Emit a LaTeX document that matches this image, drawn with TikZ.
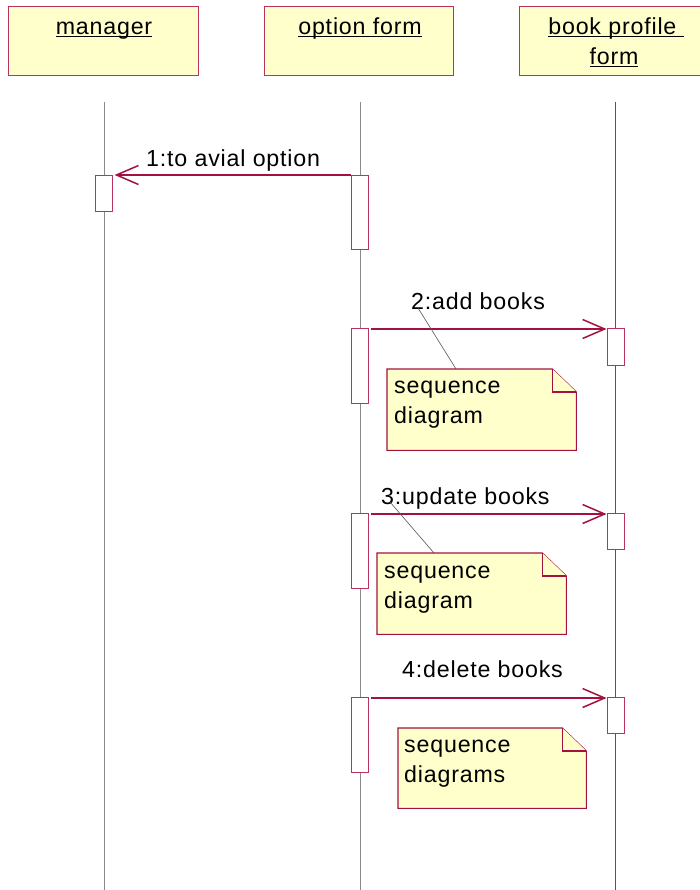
\documentclass[tikz,border=0pt]{standalone}
\usepackage{fontspec}
\setmainfont{Liberation Sans}[LetterSpace=3.5]
\usetikzlibrary{arrows.meta,calc}
\definecolor{umlred}{HTML}{A3123F}
\definecolor{umlbox}{HTML}{B8345E}
\definecolor{umlfill}{HTML}{FFFFCC}
\definecolor{lifegray}{HTML}{8A8A8A}
\definecolor{lifedark}{HTML}{555555}
\newcommand\myul[1]{\setbox0\hbox{#1}\rlap{\rule[-2.6pt]{\wd0}{1.2pt}}\box0}
\newcommand\drawnote[1]{%
  \filldraw[noteline] (#1.north west) -- ($(#1.north east)+(-24,0)$) -- ($(#1.north east)+(0,23)$) -- (#1.south east) -- (#1.south west) -- cycle;
  \draw[noteline] ($(#1.north east)+(-24,0)$) -- ($(#1.north east)+(-24,23)$) -- ($(#1.north east)+(0,23)$);}
\begin{document}
\begin{tikzpicture}[x=1pt,y=-1pt,
  every node/.style={font=\fontsize{23.2}{30}\selectfont, inner sep=0pt},
  hdr/.style={draw=umlbox, fill=umlfill, line width=1.1pt, minimum width=190pt, minimum height=69pt, anchor=north west},
  act/.style={draw=umlbox, fill=white, line width=1.1pt, minimum width=17pt, anchor=north west},
  life/.style={draw=lifegray, line width=1pt},
  msg/.style={draw=umlred, line width=1.1pt, -{Straight Barb[length=22pt,width=19pt,line width=1.5pt]}},
  lbl/.style={anchor=base west, text=black},
  notearea/.style={anchor=north west},
  noteline/.style={draw=umlred, fill=umlfill, line width=1.1pt},
  noteconn/.style={draw=lifedark, line width=0.6pt}]
\useasboundingbox (0,0) rectangle (699,890);
\fill[white] (0,0) rectangle (699,890);

% header boxes
\node[hdr] (mgr) at (8,6) {};
\node[hdr, minimum width=189pt] (opt) at (264,6) {};
\node[hdr] (bpf) at (519,6) {};
\node[anchor=base] (mgrT) at (104,34.5) {\myul{manager}};
\node[anchor=base] (optT) at (360,34.5) {\myul{option form}};
\node[anchor=base] (bpfT) at (616,34.5) {\myul{book profile\ }};
\node[anchor=base] (bpfT2) at (614,64.5) {\myul{form}};

% lifelines
\coordinate (L1t) at (104,102); \coordinate (L1b) at (104,890);
\coordinate (L2t) at (360,102); \coordinate (L2b) at (360,890);
\coordinate (L3t) at (615,102); \coordinate (L3b) at (615,890);
\draw[life] (L1t) -- (L1b);
\draw[life] (L2t) -- (L2b);
\draw[life, draw=lifedark] (L3t) -- (L3b);

% activation boxes
\node[act, minimum height=36pt] (m1) at (95,175) {};
\node[act, minimum height=74pt] (o1) at (351,175) {};
\node[act, minimum height=75pt] (o2) at (351,328) {};
\node[act, minimum height=75pt] (o3) at (351,513) {};
\node[act, minimum height=75pt] (o4) at (351,697) {};
\node[act, minimum height=37pt] (b2) at (606.5,328) {};
\node[act, minimum height=36pt] (b3) at (606.5,513) {};
\node[act, minimum height=36pt] (b4) at (606.5,697) {};

% messages
\draw[msg] (o1.north west) -- ($(m1.north east)+(1.5,0)$);
\draw[msg] ($(o2.north east)+(2,1)$) -- ($(b2.north west)+(0,1)$);
\draw[msg] ($(o3.north east)+(2,1)$) -- ($(b3.north west)+(0,1)$);
\draw[msg] ($(o4.north east)+(2,1)$) -- ($(b4.north west)+(0,1)$);

\node[lbl] (l1) at (146,167) {1:to avial option};
\node[lbl] (l2) at (411,309) {2:add books};
\node[lbl] (l3) at (381,504) {3:update books};
\node[lbl] (l4) at (402,677) {4:delete books};

% notes
\node[notearea, minimum width=189pt, minimum height=81pt] (n1) at (387,369) {};
\node[notearea, minimum width=189pt, minimum height=81pt] (n2) at (377,553) {};
\node[notearea, minimum width=188pt, minimum height=80pt] (n3) at (398,728) {};
\drawnote{n1}
\drawnote{n2}
\drawnote{n3}
\node[lbl] (t1) at (394,393) {\vtop{\baselineskip=30pt\hbox{sequence}\hbox{diagram}}};
\node[lbl] (t2) at (384,578) {\vtop{\baselineskip=30pt\hbox{sequence}\hbox{diagram}}};
\node[lbl] (t3) at (404,752) {\vtop{\baselineskip=30pt\hbox{sequence}\hbox{diagrams}}};

% note connectors
\coordinate (c1a) at ($(l2.base west)+(7,-1)$);
\coordinate (c1b) at ($(n1.north west)+(69,0)$);
\coordinate (c2a) at ($(l3.base west)+(9,-2)$);
\coordinate (c2b) at ($(n2.north west)+(57,0)$);
\draw[noteconn] (c1a) -- (c1b);
\draw[noteconn] (c2a) -- (c2b);
\end{tikzpicture}
\end{document}
